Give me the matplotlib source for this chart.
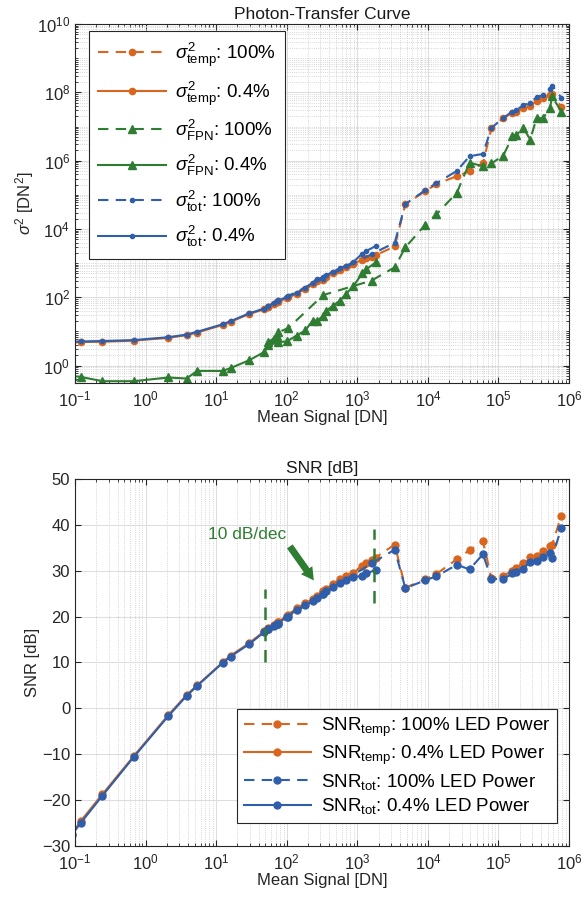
import matplotlib
matplotlib.use("Agg")
import matplotlib.pyplot as plt
from matplotlib.ticker import LogLocator, NullFormatter, FixedLocator

plt.rcParams['font.family'] = ['Liberation Sans', 'DejaVu Sans']
plt.rcParams['mathtext.fontset'] = 'custom'
plt.rcParams['mathtext.rm'] = 'Liberation Sans'
plt.rcParams['mathtext.it'] = 'Liberation Sans:italic'
plt.rcParams['mathtext.bf'] = 'Liberation Sans:bold'

# ---- data: 0.4 % LED power (solid) ----
sig_low = [0.09, 0.12, 0.245, 0.68, 2.09, 3.8, 5.37, 12.3, 16.0, 29.2, 47.9, 55.0, 75.9,
           100, 138, 182, 234, 269, 331, 363, 457, 562, 692, 871, 1175, 1349, 1820]
var_temp_low = [4.8, 4.9, 5.0, 5.4, 6.5, 7.8, 9.3, 15.5, 19.1, 32.4, 44.7, 53.7, 74.1,
                95.5, 126, 174, 240, 302, 355, 398, 501, 617, 759, 955, 1259, 1445, 1778]
var_fpn_low = [0.5, 0.47, 0.35, 0.35, 0.45, 0.42, 0.70, 0.70, 0.85, 1.43, 2.5, 3.9, 4.9,
               5.1, 7.6, 10.7, 20.9, 20.9, 28.2, 40.7, 57.5, 79.4, 126, 209, 501, 676, 1047]
var_tot_low = [5.0, 5.1, 5.25, 5.6, 6.8, 8.1, 9.8, 16.2, 20.0, 33.9, 46.8, 56.2, 79.4,
               102, 135, 191, 269, 339, 389, 447, 562, 708, 832, 1072, 1905, 2291, 3162]
snr_temp_low = [-27.4, -24.6, -18.7, -10.4, -1.5, 2.9, 5.0, 10.0, 11.5, 14.2, 16.8, 17.4, 18.8,
                20.2, 21.8, 22.9, 23.8, 24.5, 25.6, 26.1, 27.2, 28.1, 28.8, 29.5, 31.0, 31.7, 32.7]
snr_tot_low = [-27.6, -25.0, -19.0, -10.6, -1.7, 2.7, 4.9, 9.9, 11.3, 14.0, 16.6, 17.2, 18.5,
               20.0, 21.4, 22.5, 23.3, 24.0, 25.0, 25.5, 26.5, 27.4, 28.0, 28.6, 28.9, 29.4, 30.2]

# ---- data: 100 % LED power (dashed) ----
sig_high = [55, 65, 72, 76, 105, 330, 1590, 3390, 4790, 9100, 13200, 25700, 38900, 60300,
            79400, 117000, 158000, 178000, 224000, 282000, 347000, 427000, 537000, 575000, 776000]
var_temp_high = [53.7, 63.1, 72.4, 75.9, 102, 316, 1514, 3090, 52480, 128800, 204200, 354800,
                 489800, 831800, 8.91e6, 1.78e7, 2.51e7, 2.69e7, 3.47e7, 3.98e7, 5.62e7,
                 6.92e7, 8.32e7, 8.91e7, 3.80e7]
var_fpn_high = [4.9, 6.2, 7.6, 9.5, 12.6, 117, 309, 759, 2884, 13180, 26920, 114800, 871000,
                692000, 832000, 1.41e6, 5.13e6, 5.62e6, 9.12e6, 4.17e6, 1.78e7, 1.74e7,
                3.47e7, 7.59e7, 2.75e7]
var_tot_high = [56.2, 67.6, 77.6, 81.3, 110, 355, 1820, 3981, 53700, 134900, 218800, 501200,
                1.35e6, 1.58e6, 9.12e6, 1.78e7, 2.75e7, 3.02e7, 4.17e7, 5.01e7, 7.24e7,
                8.32e7, 1.26e8, 1.58e8, 7.08e7]
snr_temp_high = [17.5, 18.1, 18.6, 18.8, 20.3, 25.5, 32.3, 35.7, 26.3, 28.1, 29.3, 32.5, 34.5,
                 36.4, 28.4, 28.9, 30.0, 30.7, 31.6, 33.0, 33.3, 34.2, 35.3, 35.6, 42.0]
snr_tot_high = [17.3, 17.9, 18.3, 18.5, 20.0, 25.0, 31.6, 34.6, 26.2, 27.9, 28.8, 31.3, 30.3,
                33.6, 28.2, 28.2, 29.4, 29.8, 30.4, 32.0, 32.2, 33.0, 33.8, 32.8, 39.3]

# annotation marks on the SNR plot
slope_x = [50, 1700]
slope_ymin = [10, 23]
slope_ymax = [26, 39]

c_orange = '#D9651E'
c_green = '#2E7D32'
c_blue = '#2F5EAA'
dash = (0, (5, 3.5))


def style_axes(ax, ygrid_minor):
    ax.tick_params(which='both', direction='in', top=True, right=True,
                   labelsize=12, colors='#262626')
    ax.tick_params(axis='x', which='major', pad=5)
    ax.tick_params(which='major', length=4)
    ax.tick_params(which='minor', length=2)
    for s in ax.spines.values():
        s.set_color('#262626')
        s.set_linewidth(0.8)
    ax.set_axisbelow(True)
    ax.grid(True, which='major', color='#dcdcdc', linewidth=0.7)
    ax.grid(True, which='minor', axis='x', color='#c8c8c8', linestyle=':', linewidth=0.6)
    if ygrid_minor:
        ax.grid(True, which='minor', axis='y', color='#c8c8c8', linestyle=':', linewidth=0.6)


fig = plt.figure(figsize=(5.87, 8.98), dpi=100)

# ---------------- Photon-transfer curve ----------------
ax1 = fig.add_axes([0.1278, 0.5738, 0.8416, 0.3994])
ax1.set_xscale('log')
ax1.set_yscale('log')
ax1.plot(sig_high, var_temp_high, color=c_orange, ls=dash, lw=1.5, marker='o', ms=4.5,
         label=r'$\sigma^2_{\rm temp}$: 100%')
ax1.plot(sig_low, var_temp_low, color=c_orange, ls='-', lw=1.5, marker='o', ms=4.5,
         label=r'$\sigma^2_{\rm temp}$: 0.4%')
ax1.plot(sig_high, var_fpn_high, color=c_green, ls=dash, lw=1.5, marker='^', ms=6,
         label=r'$\sigma^2_{\rm FPN}$: 100%')
ax1.plot(sig_low, var_fpn_low, color=c_green, ls='-', lw=1.5, marker='^', ms=6,
         label=r'$\sigma^2_{\rm FPN}$: 0.4%')
ax1.plot(sig_high, var_tot_high, color=c_blue, ls=dash, lw=1.5, marker='o', ms=3,
         label=r'$\sigma^2_{\rm tot}$: 100%')
ax1.plot(sig_low, var_tot_low, color=c_blue, ls='-', lw=1.5, marker='o', ms=3,
         label=r'$\sigma^2_{\rm tot}$: 0.4%')
ax1.set_xlim(0.1, 1e6)
ax1.set_ylim(10 ** -0.5, 1e10)
ax1.xaxis.set_major_locator(FixedLocator([10.0 ** k for k in range(-1, 7)]))
ax1.xaxis.set_minor_locator(LogLocator(base=10, subs=range(2, 10), numticks=20))
ax1.xaxis.set_minor_formatter(NullFormatter())
ax1.yaxis.set_major_locator(FixedLocator([10.0 ** k for k in range(0, 11, 2)]))
ax1.yaxis.set_minor_locator(LogLocator(base=10, subs=range(1, 10), numticks=30))
ax1.yaxis.set_minor_formatter(NullFormatter())
style_axes(ax1, True)
ax1.set_title('Photon-Transfer Curve', fontsize=12.5, color='#1a1a1a', pad=4)
ax1.set_xlabel('Mean Signal [DN]', fontsize=12, color='#262626', labelpad=0)
ax1.set_ylabel(r'$\sigma^2$ [DN$^2$]', fontsize=12, color='#262626', labelpad=1)
leg1 = ax1.legend(loc='upper left', bbox_to_anchor=(0.028, 0.98), borderaxespad=0,
                  fontsize=13.5, handlelength=3.6, labelspacing=0.55, fancybox=False,
                  edgecolor='#262626', framealpha=1, borderpad=0.5, handletextpad=0.5)
leg1.get_frame().set_linewidth(0.8)

# ---------------- SNR ----------------
ax2 = fig.add_axes([0.1278, 0.0579, 0.8416, 0.4087])
ax2.set_xscale('log')
ax2.plot(sig_high, snr_temp_high, color=c_orange, ls=dash, lw=1.5, marker='o', ms=5,
         label=r'SNR$_{\rm temp}$: 100% LED Power')
ax2.plot(sig_low, snr_temp_low, color=c_orange, ls='-', lw=1.5, marker='o', ms=5,
         label=r'SNR$_{\rm temp}$: 0.4% LED Power')
ax2.plot(sig_high, snr_tot_high, color=c_blue, ls=dash, lw=1.5, marker='o', ms=5,
         label=r'SNR$_{\rm tot}$: 100% LED Power')
ax2.plot(sig_low, snr_tot_low, color=c_blue, ls='-', lw=1.5, marker='o', ms=5,
         label=r'SNR$_{\rm tot}$: 0.4% LED Power')
ax2.vlines(slope_x, slope_ymin, slope_ymax, colors=c_green, linestyles=dash, lw=1.8)
ax2.annotate('', xy=(255, 27.4), xytext=(105, 35.8),
             arrowprops=dict(arrowstyle='simple,head_length=0.9,head_width=1.0,tail_width=0.5',
                             color=c_green, lw=0))
ax2.text(7.6, 38.0, '10 dB/dec', color=c_green, fontsize=12.5, ha='left', va='center')
ax2.set_xlim(0.1, 1e6)
ax2.set_ylim(-30, 50)
ax2.set_yticks(range(-30, 51, 10))
ax2.xaxis.set_major_locator(FixedLocator([10.0 ** k for k in range(-1, 7)]))
ax2.xaxis.set_minor_locator(LogLocator(base=10, subs=range(2, 10), numticks=20))
ax2.xaxis.set_minor_formatter(NullFormatter())
style_axes(ax2, False)
ax2.set_title('SNR [dB]', fontsize=12.5, color='#1a1a1a', pad=4)
ax2.set_xlabel('Mean Signal [DN]', fontsize=12, color='#262626', labelpad=0)
ax2.set_ylabel('SNR [dB]', fontsize=12, color='#262626', labelpad=1)
leg2 = ax2.legend(loc='lower right', bbox_to_anchor=(0.975, 0.063), borderaxespad=0,
                  fontsize=13.5, handlelength=3.6, labelspacing=0.25, fancybox=False,
                  edgecolor='#262626', framealpha=1, borderpad=0.35, handletextpad=0.5)
leg2.get_frame().set_linewidth(0.8)

fig.savefig('out.png', dpi=100)
